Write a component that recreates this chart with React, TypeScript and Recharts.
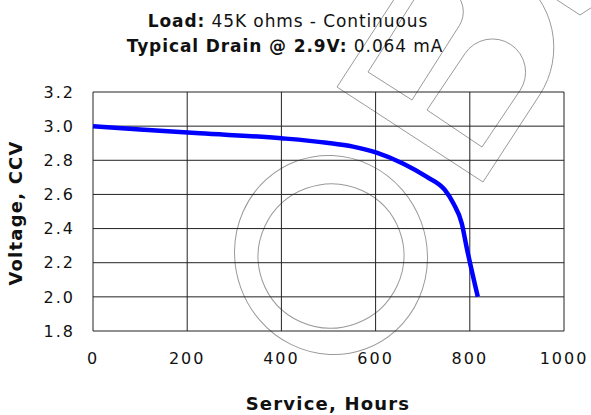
import { LineChart, Line, XAxis, YAxis, CartesianGrid } from 'recharts';

const hours = [0, 100, 227, 400, 496, 552, 602, 659, 708, 747, 765, 783, 793, 817];
const volts = [3.0, 2.98, 2.958, 2.929, 2.903, 2.88, 2.845, 2.78, 2.704, 2.626, 2.548, 2.43, 2.294, 2.0];
const xTicks = [0, 200, 400, 600, 800, 1000];
const yTicks = [1.8, 2.0, 2.2, 2.4, 2.6, 2.8, 3.0, 3.2];

const data = hours.map((h, i) => ({ hours: h, volts: volts[i] }));

const FONT = '"DejaVu Sans", Verdana, sans-serif';

// rotated "tombstone" outline for the background logo
function tomb(p: number[], q: number[], len: number) {
  const dx = q[0] - p[0];
  const dy = q[1] - p[1];
  const w = Math.hypot(dx, dy);
  const ux = dy / w;
  const uy = -dx / w;
  const p2 = [p[0] + ux * len, p[1] + uy * len];
  const q2 = [q[0] + ux * len, q[1] + uy * len];
  const r = w / 2;
  return `M${p[0]},${p[1]} L${q[0]},${q[1]} L${q2[0]},${q2[1]} A${r},${r} 0 0 0 ${p2[0]},${p2[1]} Z`;
}

function Watermark() {
  return (
    <svg width={591} height={415} style={{ position: 'absolute', left: 0, top: 0 }}>
      <g fill="none" stroke="#9a9a9a" strokeWidth={1}>
        <path d={tomb([337, 87], [483, 182], 104)} />
        <path d={tomb([368, 72], [412, 100], 88)} />
        <path d={tomb([427, 110], [482, 147], 68)} />
        <path d="M557,0 L580,15 L600,2" />
        <ellipse cx={331} cy={255} rx={96} ry={100} transform="rotate(-20 331 255)" />
        <ellipse cx={331} cy={256} rx={73} ry={72} transform="rotate(-20 331 256)" />
      </g>
    </svg>
  );
}

export default function App() {
  return (
    <div style={{ position: 'relative', width: 591, height: 415, background: '#fff' }}>
      <style>{'body{margin:0}'}</style>
      <Watermark />
      <div style={{ position: 'absolute', left: 0, top: 0 }}>
        <LineChart width={591} height={415} data={data} margin={{ top: 92, right: 27, bottom: 54, left: 33 }}>
          <CartesianGrid stroke="#222" strokeWidth={1} />
          <XAxis
            dataKey="hours"
            type="number"
            domain={[0, 1000]}
            ticks={xTicks}
            height={30}
            axisLine={false}
            tickLine={false}
            tickSize={0}
            tickMargin={22}
            tick={{ fill: '#111', fontSize: 16, fontFamily: FONT, letterSpacing: 2 }}
          />
          <YAxis
            type="number"
            domain={[1.8, 3.2]}
            ticks={yTicks}
            width={60}
            axisLine={false}
            tickLine={false}
            tickSize={0}
            tickMargin={18}
            tickFormatter={(v: number) => v.toFixed(1)}
            tick={{ fill: '#111', fontSize: 16, fontFamily: FONT, letterSpacing: 2 }}
          />
          <Line
            dataKey="volts"
            type="monotone"
            stroke="#0000ff"
            strokeWidth={4.5}
            dot={false}
            isAnimationActive={false}
          />
        </LineChart>
      </div>
      <svg width={591} height={415} style={{ position: 'absolute', left: 0, top: 0, pointerEvents: 'none' }}>
        <g fontFamily={FONT} fill="#111" textAnchor="middle">
          <text x={288} y={27} fontSize={17} letterSpacing={0.9}>
            <tspan fontWeight="bold">Load:</tspan> 45K ohms - Continuous
          </text>
          <text x={285} y={52} fontSize={17} letterSpacing={0.9}>
            <tspan fontWeight="bold">Typical Drain @ 2.9V:</tspan> 0.064 mA
          </text>
          <text x={328} y={410} fontSize={18} letterSpacing={1.2} fontWeight="bold">Service, Hours</text>
          <text x={0} y={0} fontSize={18} letterSpacing={1.2} fontWeight="bold" transform="translate(22 213) rotate(-90)">
            Voltage, CCV
          </text>
        </g>
      </svg>
    </div>
  );
}
